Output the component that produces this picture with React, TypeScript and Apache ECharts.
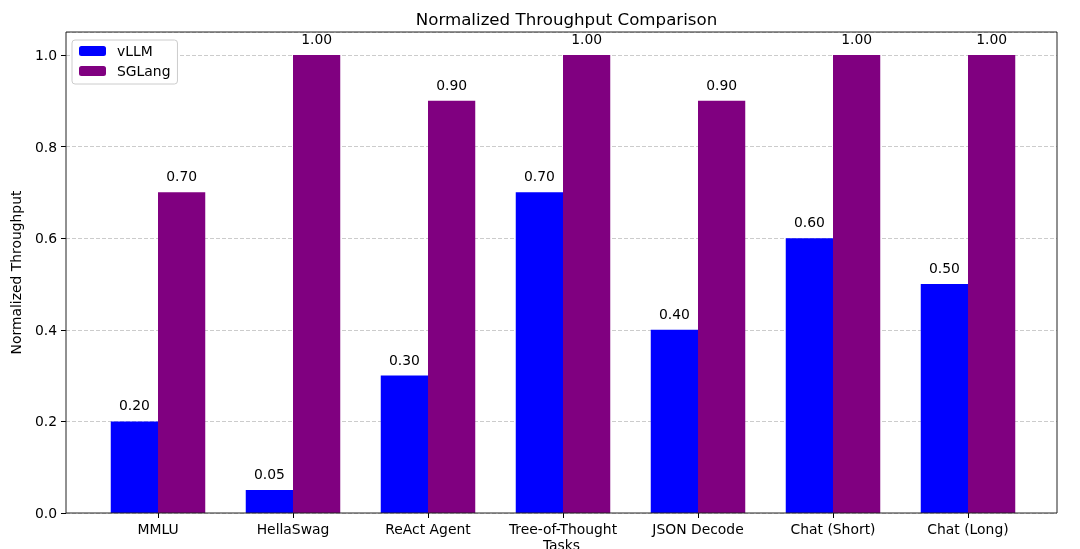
import React, { useEffect, useRef } from "react";
import * as echarts from "echarts";

const tasks = ["MMLU", "HellaSwag", "ReAct Agent", "Tree-of-Thought", "JSON Decode", "Chat (Short)", "Chat (Long)"];
const vllm = [0.2, 0.05, 0.3, 0.7, 0.4, 0.6, 0.5];
const sglang = [0.7, 1.0, 0.9, 1.0, 0.9, 1.0, 1.0];
const yTicks = [0, 0.2, 0.4, 0.6, 0.8, 1.0];

const FONT = "DejaVu Sans";
const FS = 13.9;

export default function App() {
  const ref = useRef<HTMLDivElement>(null);
  useEffect(() => {
    if (!ref.current) return;
    const chart = echarts.init(ref.current, null, { renderer: "svg" });
    const L = 66, R = 1057, T = 32, B = 513;
    const band = 135;
    const n = tasks.length;
    const center0 = 158;
    const g1Left = center0 - band / 2;
    const g1Width = band * n;
    const isTick = (v: number) => yTicks.some((t) => Math.abs(t - v) < 1e-6);
    const labelCfg = {
      show: true,
      position: "top",
      distance: 9,
      color: "#000",
      fontSize: FS,
      fontFamily: FONT,
      formatter: (p: any) => Number(p.value).toFixed(2),
    };
    chart.setOption({
      animation: false,
      textStyle: { fontFamily: FONT },
      title: {
        text: "Normalized Throughput Comparison",
        left: (L + R) / 2,
        textAlign: "center",
        top: 6,
        textStyle: { fontFamily: FONT, fontSize: 16.67, fontWeight: "normal", color: "#000" },
      },
      legend: {
        orient: "vertical",
        left: 72,
        top: 40,
        itemWidth: 27,
        itemHeight: 10,
        itemGap: 6,
        padding: [4, 7, 6, 7],
        borderColor: "#ccc",
        borderWidth: 1,
        borderRadius: 3,
        backgroundColor: "#fff",
        textStyle: { fontFamily: FONT, fontSize: FS, color: "#000", lineHeight: 14, padding: [0, 0, 0, 6] },
        data: ["vLLM", "SGLang"],
      },
      grid: [
        { left: L, top: T, width: R - L, height: B - T },
        { left: g1Left, top: T, width: g1Width, height: B - T },
      ],
      xAxis: [
        { type: "value", gridIndex: 0, show: false, min: 0, max: 1 },
        {
          type: "category",
          gridIndex: 1,
          data: tasks,
          axisLine: { show: false },
          axisTick: { show: true, alignWithLabel: true, interval: 0, length: 5, lineStyle: { color: "#000" } },
          axisLabel: { color: "#000", fontSize: FS, fontFamily: FONT, margin: 9, interval: 0, hideOverlap: false },
          splitLine: { show: false },
        },
      ],
      yAxis: [
        {
          type: "value",
          gridIndex: 0,
          min: 0,
          max: 1.05,
          interval: 0.2,
          name: "Normalized Throughput",
          nameLocation: "middle",
          nameGap: 43,
          nameTextStyle: { fontFamily: FONT, fontSize: FS, color: "#000" },
          axisLine: { show: false },
          axisTick: { show: true, length: 5, lineStyle: { color: "#000" } },
          axisLabel: {
            color: "#000",
            fontSize: FS,
            fontFamily: FONT,
            margin: 9,
            showMaxLabel: false,
            formatter: (v: number) => (isTick(v) ? v.toFixed(1) : ""),
          },
          splitLine: { show: true, lineStyle: { color: "#cccccc", type: [4, 2], width: 1 } },
        },
        { type: "value", gridIndex: 1, min: 0, max: 1.05, show: false },
      ],
      graphic: [
        {
          type: "rect",
          shape: { x: L, y: T, width: R - L, height: B - T },
          style: { fill: "none", stroke: "#222", lineWidth: 1 },
          z: 100,
          silent: true,
        },
        {
          type: "text",
          x: (L + R) / 2,
          y: 538,
          style: { text: "Tasks", fontFamily: FONT, fontSize: FS, fill: "#000", textAlign: "center", textVerticalAlign: "top" },
        },
      ],
      series: [
        {
          name: "vLLM",
          type: "bar",
          xAxisIndex: 1,
          yAxisIndex: 1,
          data: vllm,
          barWidth: 47.25,
          barGap: "0%",
          itemStyle: { color: "#0000ff" },
          label: labelCfg,
        },
        {
          name: "SGLang",
          type: "bar",
          xAxisIndex: 1,
          yAxisIndex: 1,
          data: sglang,
          barWidth: 47.25,
          barGap: "0%",
          itemStyle: { color: "#800080" },
          label: labelCfg,
        },
      ],
    });
    return () => chart.dispose();
  }, []);
  return <div ref={ref} style={{ position: "fixed", left: 0, top: 0, width: 1080, height: 549 }} />;
}
